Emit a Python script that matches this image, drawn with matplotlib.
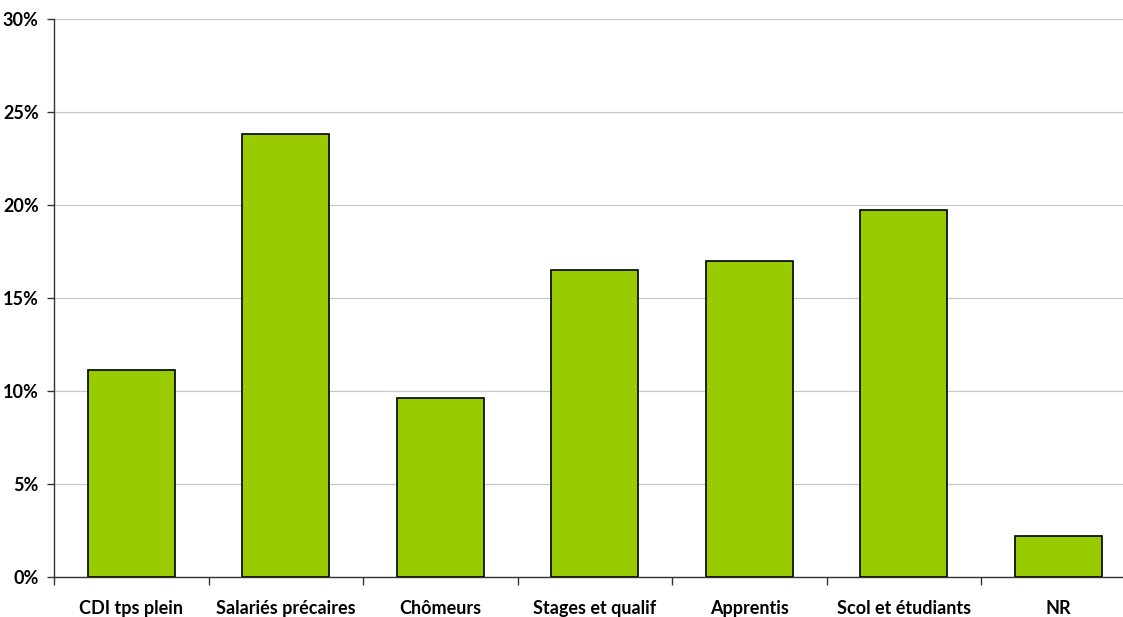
import matplotlib
matplotlib.use("Agg")
import matplotlib.pyplot as plt
from matplotlib.ticker import FixedLocator, FuncFormatter

categories = ["CDI tps plein", "Salariés précaires", "Chômeurs", "Stages et qualif",
              "Apprentis", "Scol et étudiants", "NR"]
values = [11.15, 23.8, 9.64, 16.5, 17.0, 19.75, 2.2]
yticks = [0, 5, 10, 15, 20, 25, 30]

plt.rcParams['font.family'] = ['Lato', 'DejaVu Sans']
fig = plt.figure(figsize=(11.23, 6.17), dpi=100)
W, H = 1123, 617
x0, x1 = 54, 1135.5
y0, y1 = 577.3, 19
ax = fig.add_axes([x0 / W, (H - y0) / H, (x1 - x0) / W, (y0 - y1) / H])

pos = list(range(len(categories)))
ax.bar(pos, values, width=0.56, color="#99CC00", edgecolor="black", linewidth=1.2, zorder=3)
ax.set_xlim(-0.5, len(categories) - 0.5)
ax.set_ylim(0, 30)
ax.yaxis.set_major_locator(FixedLocator(yticks))
ax.yaxis.set_major_formatter(FuncFormatter(lambda v, p: f"{int(v)}%"))
ax.grid(axis="y", color="#C8C8C8", linewidth=0.9, zorder=0)

ax.set_xticks([i - 0.5 for i in range(len(categories))])
ax.set_xticklabels([])
ax.set_xticks(pos, minor=True)
ax.set_xticklabels(categories, minor=True, fontsize=13, fontweight="bold")
ax.tick_params(axis="x", which="minor", length=0, pad=16)
ax.tick_params(axis="x", which="major", length=6, width=1, color="#333333")
ax.tick_params(axis="y", length=5, width=1, color="#333333", labelsize=13, pad=6)
for lbl in ax.get_yticklabels():
    lbl.set_fontweight("bold")

for s in ["top", "right"]:
    ax.spines[s].set_visible(False)
ax.spines["left"].set_color("#333333")
ax.spines["bottom"].set_color("#333333")
ax.spines["left"].set_linewidth(1)
ax.spines["bottom"].set_linewidth(1)

fig.savefig("out.png", dpi=100)
